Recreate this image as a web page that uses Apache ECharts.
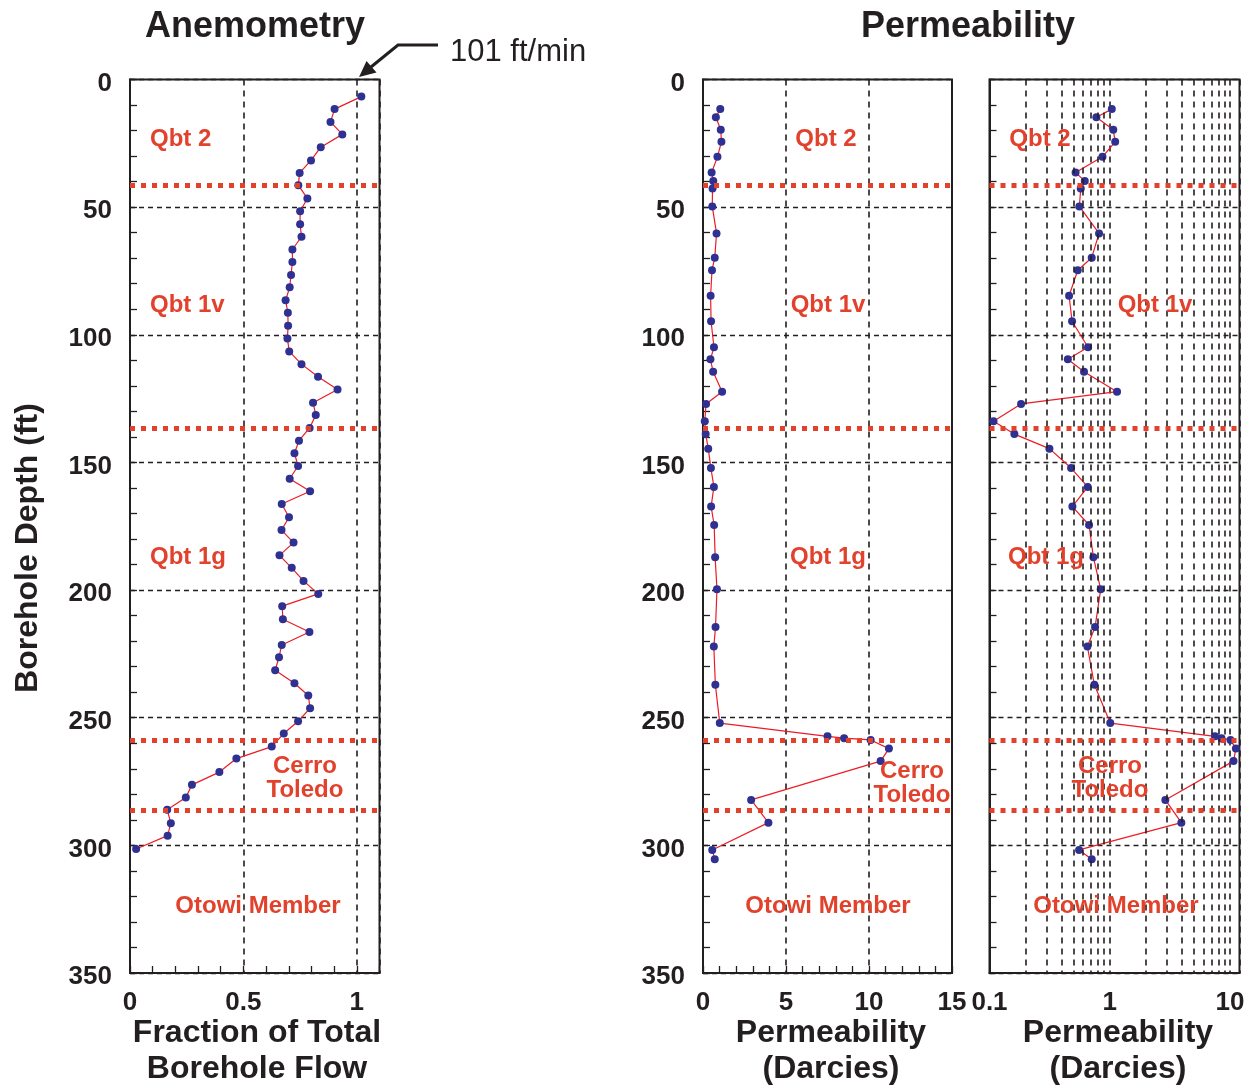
<!DOCTYPE html>
<html><head><meta charset="utf-8">
<script src="https://cdn.jsdelivr.net/npm/echarts@6/dist/echarts.min.js"></script>
<style>html,body{margin:0;padding:0;background:#fff}#c{width:1252px;height:1088px}</style>
</head><body><div id="c"></div>
<script>
// ---- data ----
const anemDepth = [6.7,11.6,16.6,21.5,26.5,31.7,36.6,41.4,46.6,51.6,
  56.7,61.6,66.6,71.5,76.6,81.4,86.5,91.4,96.5,101.5,
  106.5,111.5,116.4,121.4,126.6,131.4,136.5,141.5,146.4,151.4,
  156.4,161.3,166.3,171.5,176.5,181.4,186.4,191.3,196.4,201.5,
  206.3,211.4,216.4,221.5,226.3,231.4,236.5,241.3,246.3,251.4,
  256.2,261.3,266.0,271.3,276.3,281.3,286.1,291.3,296.2,301.4];
const anemFlow = [1.02,0.902,0.884,0.936,0.841,0.798,0.748,0.742,0.782,0.750,
  0.750,0.756,0.716,0.716,0.710,0.704,0.686,0.696,0.697,0.694,
  0.702,0.756,0.829,0.915,0.807,0.819,0.792,0.745,0.725,0.741,
  0.704,0.794,0.669,0.701,0.668,0.721,0.659,0.713,0.765,0.830,
  0.671,0.674,0.791,0.669,0.657,0.640,0.725,0.786,0.794,0.741,
  0.678,0.625,0.469,0.394,0.273,0.246,0.164,0.180,0.166,0.027];
const permDepth = [11.6,14.8,19.7,24.4,30.3,36.4,39.8,42.7,49.7,60.3,
  69.8,74.7,84.7,94.7,104.9,109.6,114.5,122.3,127.1,133.9,
  138.9,144.6,152.2,159.6,167.3,174.5,187.1,199.7,214.5,222.1,
  237.1,252.1,257.3,258.0,258.7,262.1,267.0,282.2,291.1,301.8,305.4];
const permValue = [1.04,0.774,1.07,1.11,0.87,0.52,0.62,0.574,0.559,0.815,
  0.708,0.542,0.459,0.486,0.66,0.448,0.611,1.15,0.183,0.108,
  0.161,0.315,0.477,0.656,0.489,0.673,0.731,0.841,0.755,0.652,
  0.745,1.01,7.5,8.5,10.1,11.2,10.7,2.9,3.94,0.556,0.708];
const unitBoundaries = [41.4, 136.6, 258.7, 286.3];
const flowTickLabels = [0, 0.5, 1];
const logTickLabels = [0.1, 1, 10];
const logMinorGrid = [0.2,0.3,0.4,0.5,0.6,0.7,0.8,0.9,2,3,4,5,6,7,8,9];

// ---- style ----
const INK = '#231f20';
const RED = '#e2412c';
const FF = '"Liberation Sans", Arial, Helvetica, sans-serif';
const hDash = {color: INK, width: 1.3, type: [5, 4]};
const vDash = {color: INK, width: 1.6, type: [6, 5]};

const chart = echarts.init(document.getElementById('c'), null, {renderer: 'canvas'});

const gridTop = 79.5, gridH = 893.5;
function yAx(gi, showLabel) {
  return {
    type: 'value', gridIndex: gi, inverse: true, min: 0, max: 350, interval: 50,
    axisLine: {show: true, onZero: false, lineStyle: {color: INK, width: 2}},
    axisTick: {show: true, inside: true, length: 7, lineStyle: {color: INK, width: 1.3}},
    minorTick: {show: true, splitNumber: 5, length: 7, lineStyle: {color: INK, width: 1.3}},
    axisLabel: {show: showLabel, margin: 18, color: INK,
                formatter: v => '{d|' + v + '}',
                rich: {d: {fontSize: 26, fontWeight: 'bold', color: INK, fontFamily: FF, padding: [8, 0, 0, 0]}}},
    splitLine: {show: true, lineStyle: hDash}
  };
}
const xLabel = {margin: 17, fontSize: 26, fontWeight: 'bold', color: INK, fontFamily: FF};

const boundaryLine = {
  silent: true, symbol: 'none', animation: false,
  label: {show: false},
  lineStyle: {color: RED, width: 5, type: [5, 6], cap: 'butt'},
  data: unitBoundaries.map(v => ({yAxis: v}))
};
const dataSeriesStyle = {
  type: 'line', symbol: 'circle', symbolSize: 8, showSymbol: true,
  itemStyle: {color: '#2e3192', borderWidth: 0},
  lineStyle: {color: '#ed1c24', width: 1.2},
  animation: false, z: 4
};

function txt(text, x, y, opts) {
  opts = opts || {};
  return {
    type: 'text', x: x, y: y, rotation: opts.rotation || 0, z: 100, silent: true,
    style: {
      text: text, textAlign: opts.align || 'center', textVerticalAlign: 'middle',
      font: (opts.weight || 'bold') + ' ' + (opts.size || 24) + 'px ' + FF,
      fill: opts.color || RED
    }
  };
}

const graphics = [
  txt('Anemometry', 255, 27, {size: 36, color: INK}),
  txt('Permeability', 968, 27, {size: 36, color: INK}),
  txt('101 ft/min', 450, 52, {size: 31, weight: 'normal', color: INK, align: 'left'}),
  txt('Borehole Depth (ft)', 28, 548, {size: 32, color: INK, rotation: Math.PI / 2}),
  txt('Fraction of Total', 257, 1033, {size: 32, color: INK}),
  txt('Borehole Flow', 257, 1069, {size: 32, color: INK}),
  txt('Permeability', 831, 1033, {size: 32, color: INK}),
  txt('(Darcies)', 831, 1069, {size: 32, color: INK}),
  txt('Permeability', 1118, 1033, {size: 32, color: INK}),
  txt('(Darcies)', 1118, 1069, {size: 32, color: INK}),
  // unit labels panel 1
  txt('Qbt 2', 150, 139, {align: 'left'}),
  txt('Qbt 1v', 150, 305, {align: 'left'}),
  txt('Qbt 1g', 150, 557, {align: 'left'}),
  txt('Cerro', 305, 766),
  txt('Toledo', 305, 790),
  txt('Otowi Member', 258, 906),
  // panel 2
  txt('Qbt 2', 826, 139),
  txt('Qbt 1v', 828, 305),
  txt('Qbt 1g', 828, 557),
  txt('Cerro', 912, 771),
  txt('Toledo', 912, 795),
  txt('Otowi Member', 828, 906),
  // panel 3
  txt('Qbt 2', 1040, 139),
  txt('Qbt 1v', 1155, 305),
  txt('Qbt 1g', 1046, 557),
  txt('Cerro', 1110, 766),
  txt('Toledo', 1110, 790),
  txt('Otowi Member', 1116, 906),
  // arrow
  {type: 'polyline', z: 100, silent: true, shape: {points: [[438, 45], [398, 45], [371, 67]]},
   style: {stroke: INK, lineWidth: 3, fill: null}},
  {type: 'polygon', z: 100, silent: true, shape: {points: [[359, 77], [376.5, 72.5], [366.5, 61]]},
   style: {fill: INK}}
];

const option = {
  backgroundColor: '#ffffff',
  animation: false,
  grid: [
    {left: 130, top: gridTop, width: 249.5, height: gridH, show: true, borderColor: INK, borderWidth: 2, containLabel: false},
    {left: 703, top: gridTop, width: 249, height: gridH, show: true, borderColor: INK, borderWidth: 2, containLabel: false},
    {left: 989.5, top: gridTop, width: 250, height: gridH, show: true, borderColor: INK, borderWidth: 2, containLabel: false}
  ],
  xAxis: [
    {type: 'value', gridIndex: 0, min: 0, max: 1.1, interval: 0.5, position: 'bottom',
     axisLine: {show: true, onZero: false, lineStyle: {color: INK, width: 2}},
     axisTick: {show: false},
     axisLabel: Object.assign({}, xLabel, {formatter: v => {
       const r = +(+v).toFixed(3); return flowTickLabels.includes(r) ? String(r) : ''; }}),
     splitLine: {show: true, lineStyle: vDash}},
    {type: 'value', gridIndex: 0, min: 0, max: 1.1, interval: 0.1, position: 'bottom',
     axisLine: {show: false, onZero: false}, axisLabel: {show: false}, splitLine: {show: false},
     axisTick: {show: true, inside: true, length: 7, lineStyle: {color: INK, width: 1.3}}},
    {type: 'value', gridIndex: 1, min: 0, max: 15, interval: 5, position: 'bottom',
     axisLine: {show: true, onZero: false, lineStyle: {color: INK, width: 2}},
     axisTick: {show: true, inside: true, length: 7, lineStyle: {color: INK, width: 1.3}},
     minorTick: {show: true, splitNumber: 5, length: 7, lineStyle: {color: INK, width: 1.3}},
     axisLabel: xLabel,
     splitLine: {show: true, lineStyle: vDash}},
    {type: 'log', logBase: 10, gridIndex: 2, min: 0.1, max: 12, position: 'bottom',
     axisLine: {show: true, onZero: false, lineStyle: {color: INK, width: 2}},
     axisTick: {show: false},
     axisLabel: Object.assign({}, xLabel, {formatter: v => {
       const r = +(+v).toPrecision(6); return logTickLabels.includes(r) ? String(r) : ''; }}),
     splitLine: {show: true, lineStyle: vDash}}
  ],
  yAxis: [yAx(0, true), yAx(1, true), yAx(2, false)],
  series: [
    {type: 'line', xAxisIndex: 3, yAxisIndex: 2, data: [], z: 1, animation: false,
     markLine: {silent: true, symbol: 'none', animation: false, label: {show: false},
       lineStyle: vDash,
       data: logMinorGrid.map(v => ({xAxis: v}))}},
    Object.assign({}, dataSeriesStyle, {xAxisIndex: 0, yAxisIndex: 0,
      data: anemDepth.map((d, i) => [anemFlow[i], d]), markLine: boundaryLine}),
    Object.assign({}, dataSeriesStyle, {xAxisIndex: 2, yAxisIndex: 1,
      data: permDepth.map((d, i) => [permValue[i], d]), markLine: boundaryLine}),
    Object.assign({}, dataSeriesStyle, {xAxisIndex: 3, yAxisIndex: 2,
      data: permDepth.map((d, i) => [permValue[i], d]), markLine: boundaryLine})
  ],
  graphic: graphics
};
chart.setOption(option);
</script>
</body></html>
